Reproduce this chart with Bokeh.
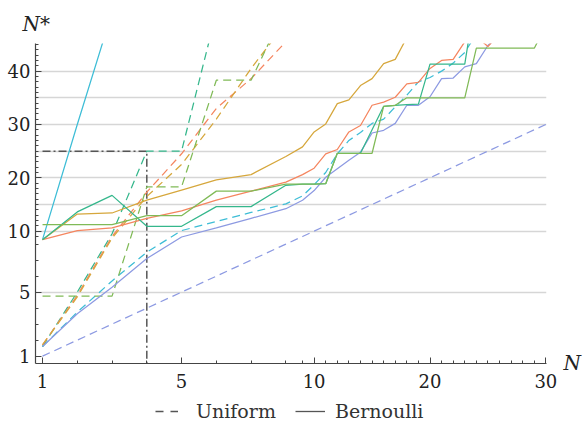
import numpy as np
from bokeh.plotting import figure
from bokeh.layouts import column
from bokeh.models import (FixedTicker, CustomJSTickFormatter, Legend,
                          LegendItem, LinearAxis)
from bokeh.embed import file_html
from bokeh.resources import INLINE

# ---------------- data ----------------
x_major = [1, 5, 10, 20, 30]
y_major = [1, 5, 10, 20, 30, 40]
y_grid = [5, 10, 15, 20, 25, 30, 35, 40]

# Uniform (dashed)
uni_lavender_n = list(range(1, 31))
uni_lavender = [float(v) for v in range(1, 31)]
uni_cyan_n = list(range(1, 25))
uni_cyan = [1.6, 3.75, 5.7, 7.5, 10.1, 11.8, 13.5, 15.1, 16.6, 18.7, 21.0, 24.5,
            27.0, 28.5, 30.2, 31.0, 33.3, 35.5, 38.0, 38.8, 40.0, 41.5, 43.5, 47.0]
uni_teal_n = [1, 2, 3, 4, 5, 6]
uni_teal = [1.6, 5.0, 9.5, 25.0, 25.0, 51.0]
uni_salmon_n = [1, 2, 3, 4, 5, 6, 7, 8]
uni_salmon = [1.7, 4.8, 9.0, 17.3, 24.5, 33.0, 38.6, 45.5]
uni_gold_n = [1, 2, 3, 4, 5, 6, 7, 8]
uni_gold = [1.7, 4.7, 8.7, 16.5, 22.5, 31.0, 40.5, 49.0]
uni_green_n = [1, 2, 3, 4, 5, 6, 7, 8]
uni_green = [4.75, 4.75, 4.75, 18.3, 18.3, 38.3, 38.3, 52.0]

# Bernoulli (solid)
ber_cyan_n = [1, 2, 3]
ber_cyan = [8.4, 30.0, 51.0]
ber_teal_n = list(range(1, 25))
ber_teal = [8.4, 13.6, 16.7, 10.9, 10.9, 14.6, 14.6, 18.6, 18.8, 18.8, 18.9, 24.6,
            24.6, 24.6, 29.0, 33.4, 33.6, 33.7, 33.8, 41.3, 41.3, 41.3, 41.3, 55.0]
ber_salmon_n = list(range(1, 27))
ber_salmon = [8.4, 10.1, 10.6, 12.4, 13.8, 15.8, 17.5, 19.2, 20.6, 21.8, 24.5, 25.3,
              28.6, 29.8, 33.6, 34.2, 35.1, 37.6, 37.9, 40.5, 42.0, 42.2, 45.5, 46.5,
              44.6, 47.0]
ber_gold_n = list(range(1, 19))
ber_gold = [8.4, 13.2, 13.4, 15.8, 17.7, 19.6, 20.6, 24.0, 25.8, 28.6, 30.1, 33.9,
            34.6, 37.3, 38.6, 41.4, 42.2, 46.3]
ber_green_n = list(range(1, 31))
ber_green = [11.2, 11.2, 11.2, 12.9, 12.9, 17.5, 17.5, 18.8, 18.8, 18.8, 18.9, 24.6,
             24.6, 24.6, 24.6, 33.4, 33.6, 35.0, 35.0, 35.0, 35.0, 35.0, 35.0, 44.3,
             44.3, 44.3, 44.3, 44.3, 44.3, 48.5]
ber_lavender_n = list(range(1, 27))
ber_lavender = [1.6, 3.65, 5.3, 7.1, 8.9, 10.6, 12.4, 14.2, 15.8, 17.6, 20.1, 21.7,
                23.3, 24.8, 28.4, 28.9, 30.2, 33.6, 33.6, 35.2, 38.6, 38.7, 40.8,
                41.4, 44.8, 47.0]

# reference threshold marker
ref_n = [1, 4, 4]
ref_v = [25.0, 25.0, 0.5]

# ---------------- axis scaling (linear with a 1:3 compression above B) -------
B = 8.22


def T(v):
    v = np.asarray(v, dtype=float)
    return np.where(v <= B, v, B + (v - B) / 3.0)


COL = {
    "cyan": "#3dbdd6",
    "teal": "#35b78c",
    "salmon": "#f5855f",
    "gold": "#d6a73c",
    "green": "#80ba57",
    "lavender": "#8d9ae2",
}
FONT = "DejaVu Serif"

p = figure(width=584, height=396,
           min_border_left=35, min_border_right=33,
           min_border_top=43, min_border_bottom=33,
           x_range=(0.798, 15.498), y_range=(0.54, 20.54),
           output_backend="svg", toolbar_location=None)
p.outline_line_color = None
p.background_fill_color = "white"
p.border_fill_color = "white"

# title used as the y-axis caption "N*"
p.title.text = "N*"
p.title.text_font = FONT
p.title.text_font_style = "italic"
p.title.text_font_size = "20px"
p.title.text_color = "#222222"
p.title.align = "left"
p.title.offset = -13
p.title.standoff = 15

fmt_code = ("const B = 8.22; const v = tick <= B ? tick : B + 3*(tick - B);"
            " return String(Math.round(v));")

p.xaxis.ticker = FixedTicker(ticks=list(T(x_major)),
                             minor_ticks=list(T(list(range(1, 31)))))
p.xaxis.formatter = CustomJSTickFormatter(code=fmt_code)
p.yaxis.ticker = FixedTicker(ticks=list(T(y_major)),
                             minor_ticks=list(T(list(range(1, 46)))))
p.yaxis.formatter = CustomJSTickFormatter(code=fmt_code)

for ax in (p.xaxis[0], p.yaxis[0]):
    ax.axis_line_color = "#444444"
    ax.axis_line_width = 1.2
    ax.major_tick_line_color = "#444444"
    ax.minor_tick_line_color = "#444444"
    ax.major_tick_in = 6
    ax.major_tick_out = 0
    ax.minor_tick_in = 3
    ax.minor_tick_out = 0
    ax.major_label_text_font = FONT
    ax.major_label_text_font_size = "18px"
    ax.major_label_text_color = "#222222"
p.xaxis.major_label_standoff = 10
p.yaxis.major_label_standoff = 5

# x-axis caption "N": a single label on a right-hand axis at the axis level
rax = LinearAxis(ticker=FixedTicker(ticks=[0.575]),
                 formatter=CustomJSTickFormatter(code="return 'N';"),
                 axis_line_color=None, major_tick_line_color=None,
                 minor_tick_line_color=None, major_tick_out=0, major_tick_in=0,
                 major_label_standoff=17,
                 major_label_text_font=FONT,
                 major_label_text_font_style="italic",
                 major_label_text_font_size="20px",
                 major_label_text_color="#222222")
p.add_layout(rax, "right")

p.xgrid.visible = False
p.ygrid.ticker = FixedTicker(ticks=list(T(y_grid)))
p.ygrid.grid_line_color = "#d6d6d6"
p.ygrid.grid_line_width = 1.3

LW = 1.25
DASH = "8 5"

# threshold dash-dot path
p.line(T(ref_n), T(ref_v), line_color="#555555", line_width=1.5,
       line_dash="8 3 2 3")

# Uniform (dashed)
for n, v, c in [(uni_lavender_n, uni_lavender, "lavender"),
                (uni_cyan_n, uni_cyan, "cyan"),
                (uni_teal_n, uni_teal, "teal"),
                (uni_salmon_n, uni_salmon, "salmon"),
                (uni_gold_n, uni_gold, "gold"),
                (uni_green_n, uni_green, "green")]:
    p.line(T(n), T(v), line_color=COL[c], line_width=LW, line_dash=DASH)

# Bernoulli (solid)
for n, v, c in [(ber_lavender_n, ber_lavender, "lavender"),
                (ber_cyan_n, ber_cyan, "cyan"),
                (ber_salmon_n, ber_salmon, "salmon"),
                (ber_gold_n, ber_gold, "gold"),
                (ber_teal_n, ber_teal, "teal"),
                (ber_green_n, ber_green, "green")]:
    p.line(T(n), T(v), line_color=COL[c], line_width=LW)

# ---------------- legend strip ----------------
q = figure(width=584, height=29, x_range=(0, 1), y_range=(0, 1),
           x_axis_type=None, y_axis_type=None, min_border=0,
           output_backend="svg", toolbar_location=None)
q.outline_line_color = None
q.grid.visible = False
# legend-key renderers (style carriers only, nothing drawn in the strip)
r_u = q.line([np.nan], [np.nan], line_color="#555555", line_width=1.3,
             line_dash="8 7")
r_b = q.line([np.nan], [np.nan], line_color="#555555", line_width=1.3)

common = dict(orientation="horizontal", glyph_height=20, label_height=20,
              padding=0, margin=0, border_line_color=None,
              background_fill_alpha=0, label_text_font=FONT,
              label_text_font_size="19px", label_text_color="#333333")
leg1 = Legend(items=[LegendItem(label="Uniform", renderers=[r_u])],
              location=(120, 3), glyph_width=23, label_standoff=18, **common)
leg2 = Legend(items=[LegendItem(label="Bernoulli", renderers=[r_b])],
              location=(260, 3), glyph_width=30, label_standoff=10, **common)
q.add_layout(leg1)
q.add_layout(leg2)

layout = column(p, q, spacing=0)
open("out.html", "w").write(file_html(layout, INLINE))
